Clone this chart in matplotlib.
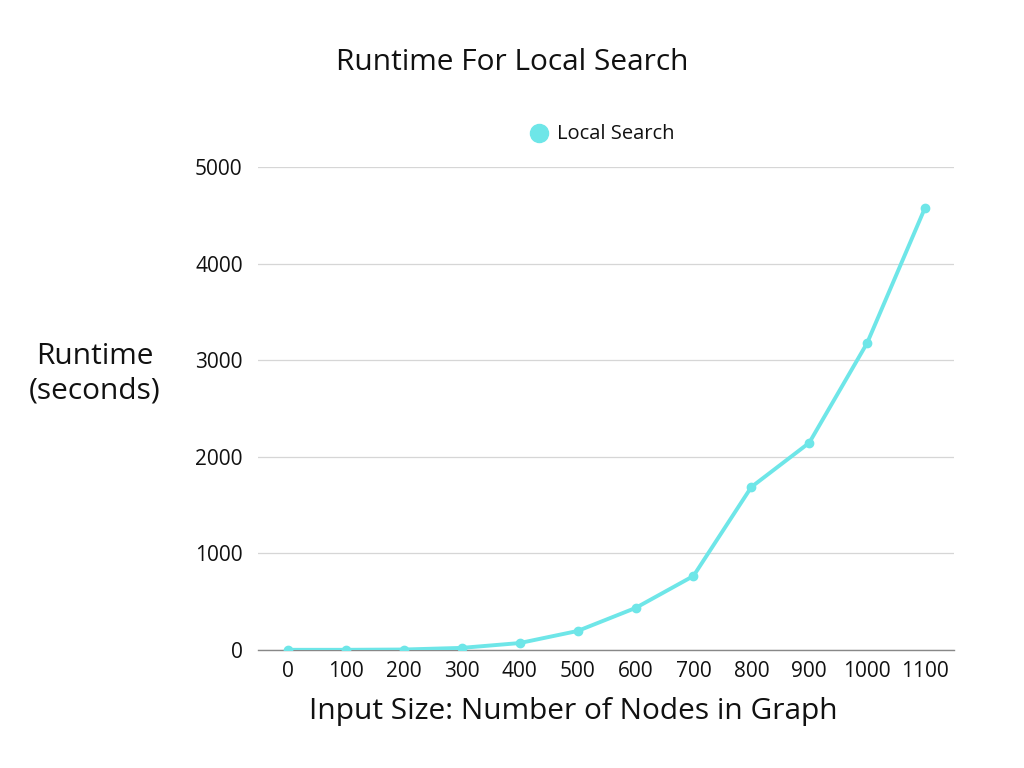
import matplotlib
matplotlib.use("Agg")
import matplotlib.pyplot as plt

plt.rcParams['font.family'] = ['Open Sans', 'DejaVu Sans']

nodes = ["0", "100", "200", "300", "400", "500", "600", "700", "800", "900", "1000", "1100"]
runtime = [2, 2, 5, 22, 72, 197, 435, 766, 1687, 2145, 3178, 4578]
series_name = "Local Search"
color = "#6EE6E8"

fig = plt.figure(figsize=(10.24, 7.68), dpi=100)
ax = fig.add_axes([258/1024, 1-650/768, (954-258)/1024, (650-167)/768])
xs = list(range(len(nodes)))
ax.plot(xs, runtime, color=color, lw=2.8, marker='o', ms=6, zorder=3, label=series_name)
ax.set_xlim(-0.52, 11.5)
ax.set_ylim(0, 5000)
ax.set_yticks([0, 1000, 2000, 3000, 4000, 5000])
ax.set_xticks(xs)
ax.set_xticklabels(nodes)
ax.tick_params(length=0, labelsize=15, colors='#111111', pad=8)
ax.tick_params(axis='y', pad=11)
ax.grid(axis='y', color='#d6d6d6', lw=0.9)
ax.set_axisbelow(True)
for s in ['top', 'right', 'left']:
    ax.spines[s].set_visible(False)
ax.spines['bottom'].set_color('#888888')
ax.spines['bottom'].set_linewidth(1)

fig.text(512/1024, 1-62/768, "Runtime For Local Search", ha='center', va='center', fontsize=21.5, color='#111111')
fig.text(573/1024, 1-711/768, "Input Size: Number of Nodes in Graph", ha='center', va='center', fontsize=21.5, color='#111111')
fig.text(95/1024, 1-374/768, "Runtime\n(seconds)", ha='center', va='center', fontsize=21.5, color='#111111', linespacing=1.25)

# legend
fig.lines.append(plt.Line2D([539/1024], [1-133/768], marker='o', ms=13, color=color, transform=fig.transFigure, linestyle='none'))
fig.text(557/1024, 1-134/768, series_name, ha='left', va='center', fontsize=14.5, color='#111111')

fig.savefig("out.png", dpi=100)
